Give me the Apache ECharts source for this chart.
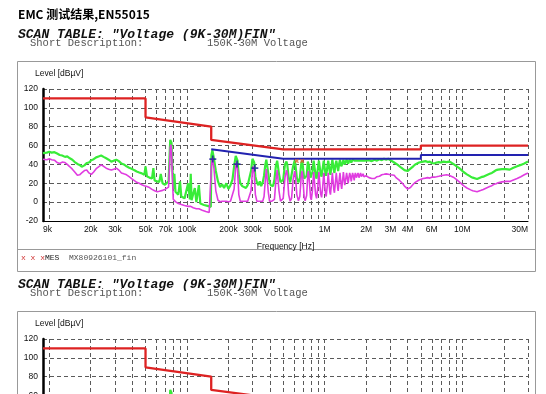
<!DOCTYPE html>
<html><head><meta charset="utf-8">
<script src="https://cdn.jsdelivr.net/npm/echarts@6/dist/echarts.min.js"></script>
<style>html,body{margin:0;padding:0;background:#fff;overflow:hidden;width:546px;height:394px}#c{width:546px;height:600px}</style>
</head><body><div id="c"></div>
<script>
// ---- data (frequency in kHz, level in dBuV) ----
const freqLowKHz = [9,9.3,9.6,10,10.4,10.9,11.4,11.9,12.4,13,13.5,14.1,14.7,15.3,16,16.6,17.2,18,18.7,19.4,
  20.2,21,21.9,22.8,23.8,24.8,25.9,27,28.2,29.4,30.7,32,33.4,34.8,36.4,38,39.6,41.3,43.1,45,
  47,49,50,51.2,53.4,55.7,57,58.2,60.7,63,64.5,66.5,69.2,71.5,73.5,74.8,75.6,76.4,77.2,78.2,
  79.5,81,82.5,84.5,86.5,89,91,93.5,96,99,102,105,106.5,108,111,114,117,120,122,125,129,133,137,141,145,149];
const peakLow = [52,51,52.5,53.5,52.5,53,51.5,50,49.5,48,48.5,46.5,45,42.5,40.5,39.5,37.5,39,41.5,42,
  44.5,45.5,47.5,48.5,49.5,48,46.5,45,43,44,45,43.5,41,40,38,36.5,35.5,34,32.5,31.5,
  30.5,29,38,27.5,26,25,36,23,22,21.5,30,20,18.5,20,22,50,66,68,63,40,
  14,30,11,9,8,22,6,5.5,4,3.5,20,3,30,2,1,15,0,0.5,18,-1.5,-2,-3,-2.5,-4,-4.5,-5];
const avgLow = [45.5,44.5,45,46,45,44.5,42,41,42.5,42,40,37.5,35,32,28.5,29,31,33.5,34,31,
  29.5,32,35.5,37.5,39.5,38,36,35,34,35,36,34,31,30,29,27,25,23,21,20,
  18.5,17.5,17,16.5,15.5,13.5,13,12,11,11.5,12,12.5,13.5,14.5,16,40,58,61,55,30,
  3,1.5,0.5,-0.5,-1.5,-2,-2.5,-3,-3.5,-4,-4.5,-5,-4.5,-5.5,-6,-6,-7,-7.5,-7,-8,-8.5,-9.5,-10,-10,-11,-10.5];

const freqMidKHz = [150.5,153,157,162,168,174,180,186,193,200,207,214,
  220,226,229,233,238,244,252,260,268,276,285,
  292,299,303,308,314,322,330,338,346,355,
  363,371,377,383,390,398,406,414,422,
  432,442,452,458,466,478,490,
  500,515,528,535,548,562,
  575,590,606,612,628,645,
  660,675,684,692,710,722,
  740,755,762,770,790,800,
  815,832,840,860,874,
  890,908,916,935,950,
  968,985,992,1012,1026,
  1045,1062,1070,1090,1102,
  1120,1138,1146,1166,1178,
  1196,1215,1225,1244,1254,
  1272,1292,1300,1320,1330,
  1350,1368,1380,1400,1410,
  1425,1444,1460,1482,
  1500,1520,1540,1560,
  1580,1596,1620,1640,
  1655,1672,1700,1715,
  1730,1748,1775,1790,
  1808,1824,1850,1870,
  1885,1900,1930,1950,1976,2000];
const peakMid = [50,55,46,33,22,16,19,15,20,14,18,24,
  38,49,50,44,28,20,17,19,15,18,20,
  33,46,48,42,27,21,18,22,17,21,
  28,40,45,43,30,21,18,20,17,
  24,38,44,42,30,21,20,
  24,40,43,40,26,21,
  23,38,44,41,26,21,
  25,40,44,40,25,23,
  28,43,44,38,26,24,
  32,44,42,28,25,
  34,44,42,30,27,
  36,44,42,31,28,
  37,44,43,32,29,
  38,45,43,34,31,
  39,44,43,36,33,
  40,45,43,38,36,
  41,45,43,40,39,
  42,45,43,41,
  43,45,43,42,
  44,45,43,43,
  44,45,43,43,
  44,45,43,43,
  44,45,43,43,
  44,45,43,44,45,44];
const avgMid = [38,47,36,12,2,0.5,1,0,1,0.5,1,2,
  14,38,42,34,8,1,0,1,0,1,1.5,
  12,33,38,30,8,1,0.5,1,0,1,
  6,24,35,33,10,1,0.5,1,0.5,
  3,22,34,32,12,1,1,
  4,26,34,30,8,1,
  4,24,33,30,8,1.5,
  6,26,33,29,5,1.5,
  7,30,33,27,5,2.5,
  12,32,31,8,4,
  14,32,30,9,5,
  16,31,30,10,6,
  17,31,30,11,8,
  19,31,30,13,10,
  20,31,30,15,12,
  22,31,30,17,14,
  23,32,30,18,16,
  25,31,29,20,
  26,31,28,22,
  27,31,27,23,
  28,31,26,24,
  28,31,26,25,
  28,31,27,26,
  28,30,27,26,29,28];

const freqHighKHz = [2100,2200,2300,2400,2500,2600,2700,2800,2900,3000,
  3100,3200,3300,3400,3500,3600,3700,3800,3900,4000,
  4100,4200,4300,4400,4550,4700,4850,5000,
  5200,5400,5600,5800,6000,6250,6500,6750,7000,
  7300,7700,8000,8300,8600,9000,9300,9600,9900,
  10200,10500,10800,11100,11500,11900,12300,12800,
  13200,13700,14200,14700,15200,15800,16400,17000,
  17600,18200,18800,19400,20000,20700,21400,22100,
  22800,23500,24200,25000,25800,26600,27400,28200,29000,30000];
const peakHigh = [44.5,43.5,45,44,45.5,44.5,46,45,46,44.5,
  43.5,42,40.5,39.5,37.5,36.5,35.5,34,34.5,33,
  34.5,35.5,37,38,40,40.5,42,41.5,
  43,43.5,42.5,43,41.5,41,42,42.5,42,
  43,42.5,43,42,40.5,38.5,37,35.5,33.5,
  32,31,29.5,28.5,27,26,25.5,24.5,
  25.5,26.5,27,28,28.5,30,31,32.5,
  34,34.5,35.5,35,35.5,35,34,34.5,
  35,36.5,37,38,38.5,39.5,40,41,42,43];
const avgHigh = [26,25,25,27,27.5,29,29.5,30,29.5,29,
  28,28.5,26,25,23,21,19.5,17,15.5,14,
  14.5,15.5,17.5,19,21,23,23.5,24.5,
  25,25.5,26,25.5,26.5,26.5,27,27.5,28,
  28.5,29,28.5,27.5,26.5,24.5,23,21,19,
  17.5,16.5,15,14,13,12,11.5,11,
  11.5,12.5,13.5,14.5,15.5,16.5,17.5,19,
  19.5,20.5,21,21.5,21.5,22,21.5,22,
  22.5,23.5,24,25,26,27,28,29,30,31];

const limitFreqKHz = [9,50,50,150,150,500,5000,5000,30000];
const limitLevel = [110,110,90,80,66,56,56,60,60];
const limitAvgFreqKHz = [150,500,5000,5000,30000];
const limitAvgLevel = [56,46,46,50,50];
const peakMarkFreqKHz = [154,231,311];
const peakMarkLevel = [45.7,40.4,36.2];
const finalMarkFreqKHz = [627,687];
const finalMarkLevel = [43.6,43.6];

const gridTickKHz = [9,10,20,30,40,50,60,70,80,90,100,200,300,400,500,600,700,800,900,
  1000,2000,3000,4000,5000,6000,7000,8000,9000,10000,20000,30000];
const labelTickKHz = [9,20,30,50,70,100,200,300,500,1000,2000,3000,4000,6000,10000,30000];

// ---- build ----
const pairs = (f, v) => f.map((x, i) => [x * 1000, v[i]]);
const freqAll = freqLowKHz.concat(freqMidKHz, freqHighKHz);
const peakAll = peakLow.concat(peakMid, peakHigh);
const avgAll = avgLow.concat(avgMid, avgHigh);

const SANS = '"Liberation Sans", Arial, sans-serif';
const MONO = '"Liberation Mono", "Courier New", monospace';
const fmtFreq = v => {
  if (v >= 999999) return Math.round(v / 1e6) + 'M';
  return Math.round(v / 1e3) + 'k';
};
const plusPath = 'path://M3,0h2v8h-2zM0,3h8v2h-8z';

const grids = [], xAxes = [], yAxes = [], series = [], graphics = [];
[0, 250].forEach((dy, i) => {
  grids.push({left: 43, top: 89 + dy, width: 485, height: 132});
  xAxes.push({
    type: 'log', logBase: 10, min: 9000, max: 30000000, gridIndex: i,
    name: 'Frequency [Hz]', nameLocation: 'middle', nameGap: 21,
    nameTextStyle: {fontSize: 8.5, color: '#111', fontFamily: SANS},
    axisLine: {show: true, onZero: false, lineStyle: {color: '#000', width: 1}},
    axisTick: {show: false, customValues: gridTickKHz.map(k => k * 1000)},
    minorTick: {show: false}, minorSplitLine: {show: false},
    axisLabel: {customValues: labelTickKHz.map(k => k * 1000), formatter: fmtFreq,
      fontSize: 8.5, color: '#111', fontFamily: SANS, margin: 4, hideOverlap: false,
      alignMinLabel: 'left', alignMaxLabel: 'right'},
    splitLine: {show: true, lineStyle: {type: [4, 3], color: '#5a5a5a', width: 1}}
  });
  yAxes.push({
    type: 'value', min: -20, max: 120, interval: 20, gridIndex: i,
    axisLine: {show: true, lineStyle: {color: '#000', width: 2.5}},
    axisTick: {show: false},
    axisLabel: {fontSize: 8.5, color: '#111', fontFamily: SANS, margin: 5},
    splitLine: {show: true, lineStyle: {type: [4, 3], color: '#5a5a5a', width: 1}}
  });
  const base = {xAxisIndex: i, yAxisIndex: i, animation: false, silent: true};
  series.push(Object.assign({type: 'line', name: 'Peak', data: pairs(freqAll, peakAll), showSymbol: false,
    lineStyle: {color: '#38ec38', width: 2.2}, z: 2}, base));
  series.push(Object.assign({type: 'line', name: 'Average', data: pairs(freqAll, avgAll), showSymbol: false,
    lineStyle: {color: '#e03ce0', width: 1.6}, z: 3}, base));
  series.push(Object.assign({type: 'line', name: 'Limit', data: pairs(limitFreqKHz, limitLevel), showSymbol: false,
    lineStyle: {color: '#dd2222', width: 2.3}, z: 4}, base));
  series.push(Object.assign({type: 'line', name: 'Limit AV', data: pairs(limitAvgFreqKHz, limitAvgLevel), showSymbol: false,
    lineStyle: {color: '#2222b0', width: 2}, z: 5}, base));
  series.push(Object.assign({type: 'scatter', name: 'Peaks', data: pairs(peakMarkFreqKHz, peakMarkLevel),
    symbol: plusPath, symbolSize: 7, itemStyle: {color: '#1a1a9a'}, z: 6}, base));
  series.push(Object.assign({type: 'scatter', name: 'MES', data: pairs(finalMarkFreqKHz, finalMarkLevel),
    symbol: plusPath, symbolSize: 5, symbolRotate: 45, itemStyle: {color: '#e05a28'}, z: 6}, base));

  graphics.push(
    {type: 'text', left: 18, top: 28 + dy, style: {text: 'SCAN TABLE: "Voltage (9K-30M)FIN"',
      font: 'italic bold 13px ' + MONO, fill: '#111'}},
    {type: 'text', left: 30, top: 38 + dy, style: {text: 'Short Description:', font: '10.5px ' + MONO, fill: '#555'}},
    {type: 'text', left: 207, top: 38 + dy, style: {text: '150K-30M Voltage', font: '10.5px ' + MONO, fill: '#555'}},
    {type: 'rect', shape: {x: 17.5, y: 61.5 + dy, width: 518, height: 210}, style: {fill: 'none', stroke: '#999', lineWidth: 1}, z: -1},
    {type: 'line', shape: {x1: 17.5, y1: 249.5 + dy, x2: 535.5, y2: 249.5 + dy}, style: {stroke: '#999', lineWidth: 1}},
    {type: 'text', left: 35, top: 69 + dy, style: {text: 'Level [dBµV]', font: '8.5px ' + SANS, fill: '#111'}},
    {type: 'text', left: 21, top: 254 + dy, style: {text: 'x x x', font: '8px ' + MONO, fill: '#d03030'}},
    {type: 'text', left: 45, top: 254 + dy, style: {text: 'MES', font: '8px ' + MONO, fill: '#222'}},
    {type: 'text', left: 69, top: 254 + dy, style: {text: 'MX80926101_fin', font: '8px ' + MONO, fill: '#555'}}
  );
});
graphics.push({type: 'text', left: 18, top: 8, style: {text: 'EMC 测试结果,EN55015',
  font: 'bold 12px "Noto Sans CJK SC", sans-serif', fill: '#000'}});

const chart = echarts.init(document.getElementById('c'), null, {renderer: 'canvas'});
chart.setOption({
  animation: false,
  backgroundColor: '#fff',
  grid: grids, xAxis: xAxes, yAxis: yAxes, series: series, graphic: graphics
});
</script></body></html>
